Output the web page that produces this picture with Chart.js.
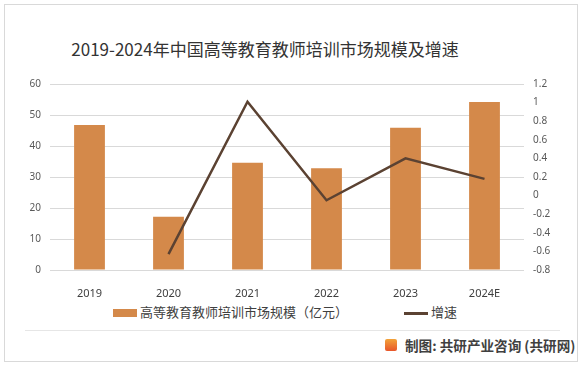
<!DOCTYPE html>
<html>
<head>
<meta charset="utf-8">
<script src="https://cdn.jsdelivr.net/npm/chart.js@4"></script>
<style>
body{margin:0;width:583px;height:366px;background:#fff;font-family:"Noto Sans CJK SC","Noto Sans",sans-serif;position:relative;overflow:hidden;}
#frame{position:absolute;left:4px;top:4px;width:572px;height:356px;border:1px solid #d9d9d9;}
#title{position:absolute;left:0;width:530px;top:36px;text-align:center;font-size:17px;color:#333;}
#wrap{position:absolute;left:0;top:0;width:583px;height:300px;}
#legend{position:absolute;top:303px;left:0;width:583px;height:18px;font-size:13px;color:#404040;}
.item{position:absolute;top:0;line-height:18px;}
.sw{display:inline-block;vertical-align:middle;margin-right:3px;}
#sep{position:absolute;left:25px;top:330px;width:535px;height:1px;background:#e6e6e6;}
#foot{position:absolute;left:405px;top:336px;font-size:13.6px;color:#404040;font-weight:bold;line-height:18px;}
#logo{position:absolute;left:385px;top:339px;width:12px;height:12px;background:linear-gradient(#f2a33a,#e8562a);border-radius:2px;}
</style>
</head>
<body>
<div id="frame"></div>
<div id="title">2019-2024年中国高等教育教师培训市场规模及增速</div>
<div id="wrap"><canvas id="chart" width="583" height="300"></canvas></div>
<div id="legend">
<div class="item" style="left:113px"><span class="sw" style="width:24px;height:8px;background:#d4894a"></span>高等教育教师培训市场规模（亿元）</div>
<div class="item" style="left:404px"><span class="sw" style="width:24px;height:3px;background:#5b4232"></span>增速</div>
</div>
<div id="sep"></div>
<div id="logo"></div>
<div id="foot">制图: 共研产业咨询 (共研网)</div>
<script>

const years = ["2019","2020","2021","2022","2023","2024E"];
const marketSize = [46.8, 17.2, 34.6, 32.8, 45.9, 54.2];
const growth = [null, -0.63, 1.01, -0.05, 0.40, 0.18];

const barColor = "#d4894a";
const lineColor = "#5b4232";

const ctx = document.getElementById("chart");

new Chart(ctx,{
type:"bar",
data:{
labels:years,
datasets:[{
type:"line",
label:"增速",
data:growth,
yAxisID:"y1",
borderColor:lineColor,
borderWidth:2.5,
pointRadius:0,
tension:0,
order:0
},{
label:"高等教育教师培训市场规模（亿元）",
data:marketSize,
yAxisID:"y",
backgroundColor:barColor,
categoryPercentage:1,
barPercentage:0.39,
order:1
}]
},
options:{
responsive:false,
animation:false,
devicePixelRatio:1,
layout:{padding:{top:84,left:0,right:0,bottom:0}},
plugins:{legend:{display:false},tooltip:{enabled:false}},
scales:{
x:{
grid:{display:false},
border:{display:false},
ticks:{color:"#404040",font:{size:11,family:"Noto Sans"},padding:9,autoSkip:false,maxRotation:0},
afterFit:s=>{s.height=30;}
},
y:{
position:"left",
min:0,max:60,
ticks:{stepSize:10,color:"#595959",font:{size:10,family:"Noto Sans"},padding:9},
grid:{color:"#d9d9d9",drawTicks:false},
border:{display:false},
afterFit:s=>{s.width=50;}
},
y1:{
position:"right",
min:-0.8,max:1.2,
ticks:{stepSize:0.2,color:"#595959",font:{size:10,family:"Noto Sans"},padding:9,
callback:v=>String(Math.round(v*10)/10)},
grid:{display:false,drawTicks:false},
border:{display:false},
afterFit:s=>{s.width=59;}
}
}
}
});

</script>
</body>
</html>
